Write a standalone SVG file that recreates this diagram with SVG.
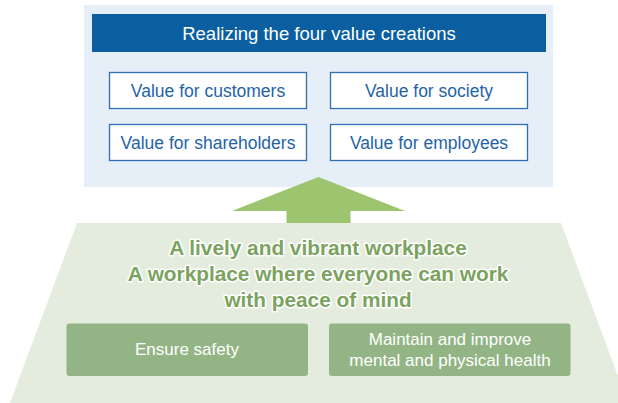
<svg xmlns="http://www.w3.org/2000/svg" width="618" height="403" viewBox="0 0 618 403">
<style>
text{font-family:"Liberation Sans",Arial,sans-serif;text-anchor:middle}
.vbox{fill:#fff;stroke:#2f6fb3;stroke-width:1.3}
.vt{fill:#1f63a8;font-size:17.5px}
.gbox{fill:#93b585}
.gt{fill:#fff;font-size:17px}
.head{fill:#7ba35f;font-size:20.8px;font-weight:bold;stroke:#fff;stroke-width:3;paint-order:stroke;stroke-linejoin:round}
</style>
<rect x="84" y="5" width="469" height="182" fill="#e6eef8"/>
<g id="title">
<rect x="92" y="14" width="454" height="38" fill="#0b5fa0"/>
<text x="319" y="40" fill="#fff" font-size="18.5">Realizing the four value creations</text>
</g>
<g id="customers"><rect class="vbox" x="109.5" y="72.5" width="197" height="36"/><text class="vt" x="208" y="97">Value for customers</text></g>
<g id="society"><rect class="vbox" x="330.5" y="72.5" width="197" height="36"/><text class="vt" x="429" y="97">Value for society</text></g>
<g id="shareholders"><rect class="vbox" x="109.5" y="124.5" width="197" height="36"/><text class="vt" x="208" y="149">Value for shareholders</text></g>
<g id="employees"><rect class="vbox" x="330.5" y="124.5" width="197" height="36"/><text class="vt" x="429" y="149">Value for employees</text></g>
<g id="connectors">
<polygon points="318.5,177 405,211 350.5,211 350.5,224 286.5,224 286.5,211 232,211" fill="#9dc56f"/>
</g>
<g id="workplace">
<polygon points="77,223 561,223 628,403 10,403" fill="#e4ecdd"/>
<text class="head" x="318" y="255">A lively and vibrant workplace</text>
<text class="head" x="318" y="281">A workplace where everyone can work</text>
<text class="head" x="318" y="307">with peace of mind</text>
</g>
<g id="safety"><rect class="gbox" x="66.5" y="323.5" width="241.5" height="52.5" rx="3"/><text class="gt" x="187" y="355">Ensure safety</text></g>
<g id="health"><rect class="gbox" x="329" y="323.5" width="241.5" height="52.5" rx="3"/><text class="gt" x="450" y="345">Maintain and improve</text><text class="gt" x="450" y="366">mental and physical health</text></g>
</svg>
